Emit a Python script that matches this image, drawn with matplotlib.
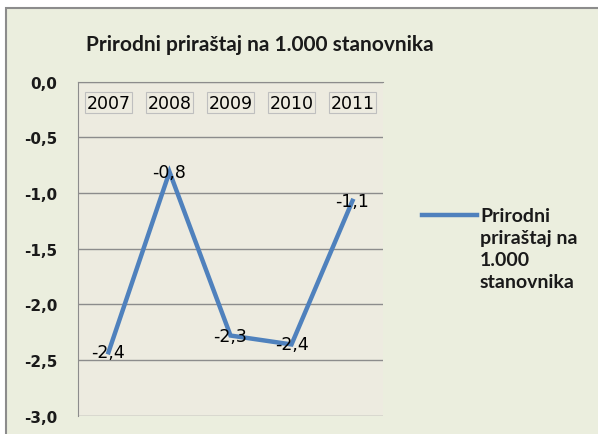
import matplotlib.pyplot as plt
from matplotlib.lines import Line2D
from matplotlib.patches import Rectangle
from matplotlib.ticker import FuncFormatter

# data
years = ['2007', '2008', '2009', '2010', '2011']
values = [-2.43, -0.81, -2.28, -2.36, -1.07]
value_labels = ['-2,4', '-0,8', '-2,3', '-2,4', '-1,1']
title = 'Prirodni priraštaj na 1.000 stanovnika'
legend_label = 'Prirodni\npriraštaj na\n1.000\nstanovnika'

line_color = '#4F81BD'
outer_bg = '#EBEEDE'
plot_bg = '#EDEBE0'

fig = plt.figure(figsize=(5.98, 4.35), dpi=100)
fig.patch.set_facecolor('white')

# chart frame (background axes)
bg = fig.add_axes([0, 0, 1, 1])
bg.set_axis_off()
bg.set_xlim(0, 1)
bg.set_ylim(0, 1)
bg.add_patch(Rectangle((6 / 598, -0.01), 1.0, 1 - 9 / 435 + 0.01,
                       facecolor=outer_bg, edgecolor='#8C8C8C', linewidth=1.5))

fig.text(260 / 598, 1 - 45 / 435, title, ha='center', va='center',
         fontsize=15, fontweight='bold', family='Lato', color='#1a1a1a')

ax = fig.add_axes([78 / 598, 1 - 416.7 / 435, 305 / 598, (416.7 - 82.7) / 435])
ax.set_facecolor(plot_bg)

x = list(range(len(years)))
ax.plot(x, values, color=line_color, linewidth=3.2, solid_joinstyle='miter', zorder=3)

for xi, v, lab in zip(x, values, value_labels):
    ax.text(xi, v, lab, ha='center', va='center', fontsize=12.5,
            family='DejaVu Sans', color='black', zorder=4)

for xi, yr in zip(x, years):
    ax.annotate(yr, (xi, 0), xytext=(0, -15), textcoords='offset points',
                ha='center', va='center', fontsize=12.5, family='DejaVu Sans',
                bbox=dict(boxstyle='square,pad=0.08', facecolor='none',
                          edgecolor='#BFBFBF', linewidth=0.8))

ax.set_xlim(-0.5, len(years) - 0.5)
ax.set_ylim(-3.0, 0.0)
ax.set_yticks([0, -0.5, -1.0, -1.5, -2.0, -2.5, -3.0])
ax.yaxis.set_major_formatter(FuncFormatter(lambda v, p: f'{v:.1f}'.replace('.', ',')))
ax.set_xticks([])
ax.tick_params(axis='y', length=0, pad=15, labelsize=11)
for t in ax.get_yticklabels():
    t.set_fontweight('bold')
    t.set_color('#1a1a1a')
ax.grid(axis='y', color='#8C8C8C', linewidth=1)
ax.set_axisbelow(True)
for s in ['right', 'bottom']:
    ax.spines[s].set_visible(False)
ax.spines['left'].set_color('#8C8C8C')
ax.spines['top'].set_color('#8C8C8C')

# legend
fig.add_artist(Line2D([422 / 598, 477 / 598], [1 - 216 / 435, 1 - 216 / 435],
                      color=line_color, linewidth=3.2))
fig.text(480 / 598, 1 - 208 / 435, legend_label, ha='left', va='top',
         fontsize=14, fontweight='bold', family='Lato', color='#1a1a1a',
         linespacing=1.36)

fig.savefig('out.png', dpi=100, facecolor=fig.get_facecolor())
